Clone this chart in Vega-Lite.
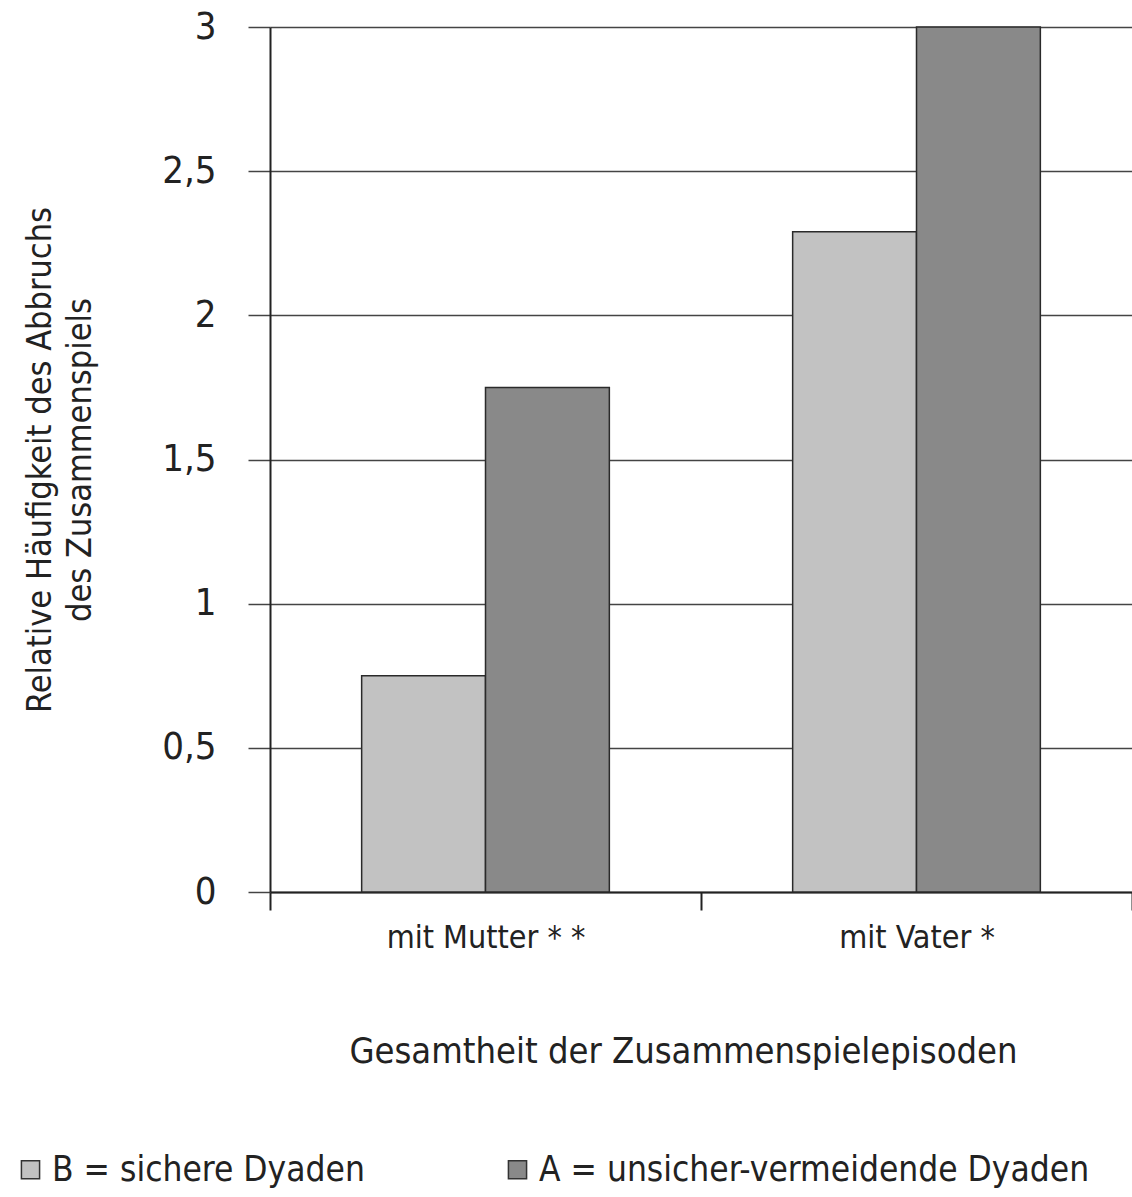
{
  "$schema": "https://vega.github.io/schema/vega-lite/v6.json",
  "autosize": "none",
  "width": 862,
  "height": 865,
  "padding": {"left": 270, "top": 27, "right": 0, "bottom": 305},
  "background": "white",
  "config": {
    "font": "Liberation Sans Narrow, DejaVu Sans Condensed, sans-serif",
    "view": {"stroke": null}
  },
  "data": {
    "values": [
      {"kontext": "mit Mutter**", "gruppe": "B = sichere Dyaden", "wert": 0.75},
      {"kontext": "mit Mutter**", "gruppe": "A = unsicher-vermeidende Dyaden", "wert": 1.75},
      {"kontext": "mit Vater*", "gruppe": "B = sichere Dyaden", "wert": 2.29},
      {"kontext": "mit Vater*", "gruppe": "A = unsicher-vermeidende Dyaden", "wert": 3.0}
    ]
  },
  "mark": {"type": "bar", "stroke": "#2a2a2a", "strokeWidth": 1.5},
  "encoding": {
    "x": {
      "field": "kontext",
      "type": "nominal",
      "sort": null,
      "scale": {"paddingInner": 0, "paddingOuter": 0},
      "axis": {
        "title": "Gesamtheit der Zusammenspielepisoden",
        "titleFontSize": 36,
        "titleFontWeight": "normal",
        "titleColor": "#222",
        "titlePadding": 81,
        "titleX": 413,
        "labelFontSize": 32,
        "labelColor": "#222",
        "labelAngle": 0,
        "labelPadding": 12,
        "labelLimit": 400,
        "labelExpr": "replace(datum.label, regexp('\\\\*', 'g'), ' *')",
        "tickBand": "extent",
        "tickSize": 18,
        "tickColor": "#222",
        "tickWidth": 2,
        "domainColor": "#222",
        "domainWidth": 2
      }
    },
    "xOffset": {
      "field": "gruppe",
      "type": "nominal",
      "sort": ["B = sichere Dyaden", "A = unsicher-vermeidende Dyaden"],
      "scale": {"paddingInner": 0, "paddingOuter": 0.74}
    },
    "y": {
      "field": "wert",
      "type": "quantitative",
      "scale": {"domain": [0, 3], "nice": false},
      "axis": {
        "title": ["Relative Häufigkeit des Abbruchs", "des Zusammenspiels"],
        "titleFontSize": 34,
        "titleFontWeight": "normal",
        "titleColor": "#222",
        "titleLineHeight": 40,
        "titlePadding": 64,
        "values": [0, 0.5, 1, 1.5, 2, 2.5, 3],
        "format": ".1~f",
        "labelExpr": "replace(datum.label, '.', ',')",
        "labelFontSize": 38,
        "labelColor": "#222",
        "labelPadding": 32,
        "tickSize": 22,
        "tickColor": "#444",
        "tickWidth": 1.5,
        "grid": true,
        "gridColor": "#444",
        "gridWidth": 1.5,
        "domainColor": "#222",
        "domainWidth": 2
      }
    },
    "color": {
      "field": "gruppe",
      "type": "nominal",
      "sort": ["B = sichere Dyaden", "A = unsicher-vermeidende Dyaden"],
      "scale": {"range": ["#c2c2c2", "#898989"]},
      "legend": {
        "title": null,
        "orient": "none",
        "direction": "horizontal",
        "legendX": -257,
        "legendY": 1125,
        "symbolType": "square",
        "symbolSize": 330,
        "symbolStrokeColor": "#333",
        "symbolStrokeWidth": 1.5,
        "labelFontSize": 35,
        "labelColor": "#222",
        "labelOffset": 4,
        "labelLimit": 700,
        "columnPadding": 135
      }
    }
  }
}
